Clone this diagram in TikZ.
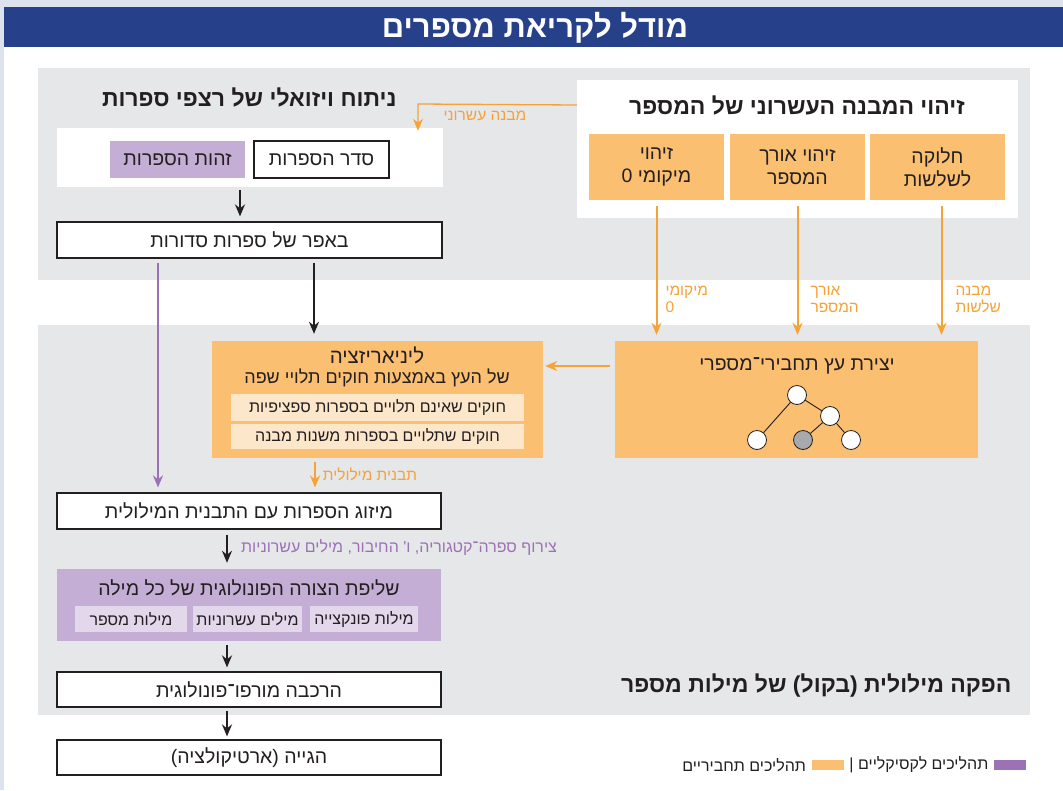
\documentclass[tikz,border=0pt]{standalone}
\usepackage{fontspec}
\setmainfont{Liberation Sans}
\newfontfamily\hebfont[Script=Hebrew]{Liberation Sans}
\TeXXeTstate=1
\usetikzlibrary{arrows.meta,positioning}

\definecolor{ink}{HTML}{231F20}
\definecolor{bandblue}{HTML}{26408A}
\definecolor{edgeblue}{HTML}{DCE3EE}
\definecolor{panelgray}{HTML}{E6E7E9}
\definecolor{synorange}{HTML}{FBBF72}
\definecolor{arroworange}{HTML}{F7A236}
\definecolor{lightorange}{HTML}{FDE7CB}
\definecolor{lexpurple}{HTML}{C5AED5}
\definecolor{lightpurple}{HTML}{E3D8EB}
\definecolor{arrowpurple}{HTML}{9C72B5}
\definecolor{leafgray}{HTML}{A7A9AC}

\newcommand{\heb}[1]{\beginR#1\endR}

\tikzset{
  every node/.style={font=\hebfont\fontsize{19.5}{23}\selectfont, text=ink},
  plainbox/.style={draw=ink, line width=1.2pt, fill=white, inner sep=0pt},
  synbox/.style={fill=synorange, inner sep=0pt},
  lexbox/.style={fill=lexpurple, inner sep=0pt},
  rulebox/.style={fill=lightorange, inner sep=0pt, font=\hebfont\fontsize{16}{19}\selectfont},
  wordbox/.style={fill=lightpurple, inner sep=0pt, font=\hebfont\fontsize{16}{19}\selectfont},
  heading/.style={font=\hebfont\bfseries\fontsize{23}{27}\selectfont},
  subhead/.style={font=\hebfont\fontsize{19.5}{23}\selectfont},
  flow/.style={-{Stealth[length=12pt,width=10pt]}, line width=2pt, draw=ink},
  synflow/.style={flow, draw=arroworange},
  lexflow/.style={flow, draw=arrowpurple},
  synlabel/.style={text=arroworange, font=\hebfont\fontsize{15.5}{17}\selectfont},
  treenode/.style={circle, draw=ink, fill=white, minimum size=19pt, inner sep=0pt, line width=0.8pt},
  swatch/.style={minimum width=32pt, minimum height=10pt, inner sep=0pt},
  legend/.style={font=\hebfont\fontsize{16}{18}\selectfont},
}

\begin{document}
\begin{tikzpicture}[x=1pt, y=-1pt]
        \useasboundingbox (0,0) rectangle (1063,790);

        % page, title band and the two gray panels
        \fill[edgeblue] (0,0) rectangle (1063,790);
        \fill[white] (4,47) rectangle (1063,790);
        \fill[bandblue] (4,7) rectangle (1063,47);
        \fill[panelgray] (38,68) rectangle (1030,280);
        \fill[panelgray] (38,325) rectangle (1030,715);

        \node[text=white, font=\hebfont\bfseries\fontsize{31}{34}\selectfont] (title) at (535,28) {\heb{מודל לקריאת מספרים}};

        % visual analysis of the digit string
        \node[heading, anchor=east] (visualhead) at (400,97) {\heb{ניתוח ויזואלי של רצפי ספרות}};
        \node[fill=white, minimum width=386, minimum height=59, inner sep=0pt] (digitsarea) at (250,157.5) {};
        \node[lexbox, minimum width=135, minimum height=37] (identity) at (177.5,159.5) {\heb{זהות הספרות}};
        \node[plainbox, minimum width=135, minimum height=37] (order) at (321.5,159.5) {\heb{סדר הספרות}};
        \node[plainbox, minimum width=385, minimum height=36] (buffer) at (249.5,240) {\heb{באפר של ספרות סדורות}};
        \draw[flow, shorten <=3pt, shorten >=5pt] (digitsarea.south -| 240,0) -- (buffer.north -| 240,0);

        % decimal structure
        \node[fill=white, minimum width=441, minimum height=138, inner sep=0pt] (decibox) at (797.5,149) {};
        \node[heading] (decihead) at (797,105) {\heb{זיהוי המבנה העשרוני של המספר}};
        \node[synbox, minimum width=135, minimum height=66, align=center] (zerobox) at (656.5,167) {\heb{זיהוי}\\\heb{מיקומי 0}};
        \node[synbox, minimum width=135, minimum height=66, align=center] (lengthbox) at (797.5,167) {\heb{זיהוי אורך}\\\heb{המספר}};
        \node[synbox, minimum width=135, minimum height=66, align=center] (tripletbox) at (937.5,167) {\heb{חלוקה}\\\heb{לשלשות}};

        \coordinate (decicorner) at (418,104);
        \draw[synflow, line width=1.3pt] (decibox.west |- decihead) -- (decicorner) -- ([yshift=-3pt]decicorner |- digitsarea.north);
        \node[synlabel] (decilabel) at (485,116) {\heb{מבנה עשרוני}};

        % syntactic tree
        \node[synbox, minimum width=363, minimum height=117] (treebox) at (796.5,399.5) {};
        \node[subhead] (treehead) at (797,366) {\heb{יצירת עץ תחבירי־מספרי}};
        \node[treenode] (root) at (797,395) {};
        \node[treenode] (inner) at (830,416) {};
        \node[treenode] (leafa) at (757,440) {};
        \node[treenode, fill=leafgray] (leafb) at (803,440) {};
        \node[treenode] (leafc) at (851,440) {};
        \draw[ink, line width=0.9pt] (root) -- (leafa);
        \draw[ink, line width=0.9pt] (root) -- (inner);
        \draw[ink, line width=0.9pt] (inner) -- (leafb);
        \draw[ink, line width=0.9pt] (inner) -- (leafc);

        \draw[synflow, shorten <=6pt, shorten >=6pt] (zerobox.south) -- (zerobox.south |- treebox.north);
        \draw[synflow, shorten <=6pt, shorten >=6pt] (lengthbox.south) -- (lengthbox.south |- treebox.north);
        \draw[synflow, shorten <=6pt, shorten >=6pt] ([xshift=4pt]tripletbox.south) -- ([xshift=4pt]tripletbox.south |- treebox.north);
        \node[synlabel, anchor=north west, align=left] (zerolabel) at (662,283) {\heb{מיקומי}\\0};
        \node[synlabel, anchor=north west, align=left] (lengthlabel) at (807,283) {\heb{אורך}\\\heb{המספר}};
        \node[synlabel, anchor=north west, align=left] (tripletlabel) at (952,283) {\heb{מבנה}\\\heb{שלשות}};

        % linearization
        \node[synbox, minimum width=331, minimum height=117] (linbox) at (377.5,399.5) {};
        \node[font=\hebfont\fontsize{20.5}{24}\selectfont] (linhead) at (377,355) {\heb{ליניאריזציה}};
        \node[font=\hebfont\fontsize{18}{21}\selectfont] (linsub) at (377,378) {\heb{של העץ באמצעות חוקים תלויי שפה}};
        \node[rulebox, minimum width=293, minimum height=27] (generalrules) at (377.5,407.5) {\heb{חוקים שאינם תלויים בספרות ספציפיות}};
        \node[rulebox, minimum width=293, minimum height=25] (specialrules) at (377.5,436.5) {\heb{חוקים שתלויים בספרות משנות מבנה}};
        \draw[synflow, shorten <=5pt, shorten >=2pt] (treebox.west |- treehead) -- (linbox.east |- treehead);

        % verbal production
        \node[plainbox, minimum width=384, minimum height=36] (merge) at (249,511) {\heb{מיזוג הספרות עם התבנית המילולית}};
        \draw[flow, shorten <=4pt, shorten >=7pt] (buffer.south -| 314,0) -- (linbox.north -| 314,0);
        \draw[lexflow, shorten <=4pt, shorten >=5pt] (buffer.south -| 158,0) -- (merge.north -| 158,0);
        \draw[synflow, shorten <=4pt, shorten >=5pt] (linbox.south -| 315,0) -- (merge.north -| 315,0);
        \node[synlabel] (patternlabel) at (370,474) {\heb{תבנית מילולית}};

        \node[lexbox, minimum width=384, minimum height=72] (fetchbox) at (249,605) {};
        \node[subhead] (fetchhead) at (249,588) {\heb{שליפת הצורה הפונולוגית של כל מילה}};
        \node[wordbox, minimum width=112, minimum height=26] (numwords) at (131,619) {\heb{מילות מספר}};
        \node[wordbox, minimum width=109, minimum height=26] (decwords) at (247.5,619) {\heb{מילים עשרוניות}};
        \node[wordbox, minimum width=108, minimum height=26] (funcwords) at (364,619) {\heb{מילות פונקצייה}};
        \draw[flow, shorten <=5pt, shorten >=6pt] (merge.south -| 227,0) -- (fetchbox.north -| 227,0);
        \node[text=arrowpurple, font=\hebfont\fontsize{16}{18}\selectfont] (combolabel) at (399,547) {\heb{צירוף ספרה־קטגוריה, ו' החיבור, מילים עשרוניות}};

        \node[plainbox, minimum width=384, minimum height=35] (compose) at (249,689.5) {\heb{הרכבה מורפו־פונולוגית}};
        \node[plainbox, minimum width=384, minimum height=35] (articulate) at (249,757.5) {\heb{הגייה (ארטיקולציה)}};
        \draw[flow, shorten <=4pt, shorten >=4pt] (fetchbox.south -| 227,0) -- (compose.north -| 227,0);
        \draw[flow, shorten <=3pt, shorten >=3pt] (compose.south -| 227,0) -- (articulate.north -| 227,0);

        \node[heading, anchor=east] (producehead) at (1015,686) {\heb{הפקה מילולית (בקול) של מילות מספר}};

        % legend
        \node[swatch, fill=arrowpurple] (lexswatch) at (1010,765) {};
        \node[legend, left=2pt of lexswatch] (lexlegend) {\heb{תהליכים לקסיקליים |}};
        \node[swatch, fill=synorange, left=2pt of lexlegend] (synswatch) {};
        \node[legend, left=2pt of synswatch] (synlegend) {\heb{תהליכים תחביריים}};
    \end{tikzpicture}
\end{document}
